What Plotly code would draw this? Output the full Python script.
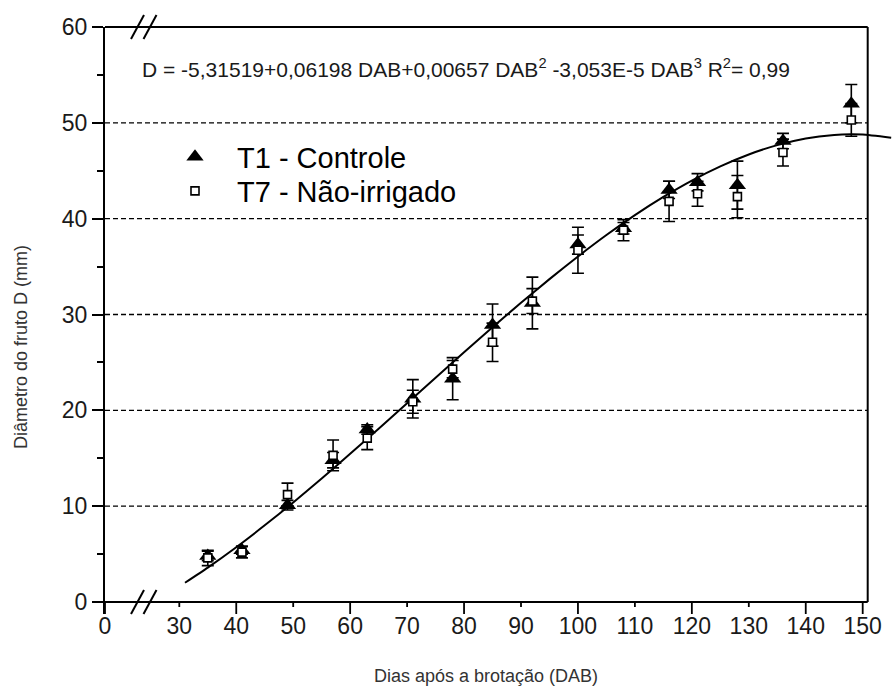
import plotly.graph_objects as go

# ---------------- data ----------------
DAB = [35, 41, 49, 57, 63, 71, 78, 85, 92, 100, 108, 116, 121, 128, 136, 148]
T1_CONTROLE = [4.8, 5.4, 10.1, 14.8, 18.0, 21.2, 23.3, 28.9, 31.2, 37.3, 39.0, 43.0, 43.8, 43.5, 48.1, 52.0]
T1_ERR = [0.5, 0.4, 0.5, 0.8, 0.5, 2.0, 2.2, 2.2, 2.7, 1.0, 0.6, 0.9, 0.9, 2.5, 0.8, 2.0]
T7_NAO_IRRIGADO = [4.6, 5.2, 11.2, 15.3, 17.1, 20.9, 24.3, 27.1, 31.4, 36.7, 38.8, 41.8, 42.6, 42.3, 46.9, 50.3]
T7_ERR = [0.8, 0.6, 1.2, 1.6, 1.2, 1.2, 0.9, 2.0, 1.3, 2.4, 1.1, 2.1, 1.3, 2.2, 1.4, 1.7]

FIT_X = [31, 35, 40, 45, 50, 55, 60, 65, 70, 75, 80, 85, 90, 95, 100, 105, 110, 115,
         120, 125, 130, 135, 140, 145, 148, 150, 155]
FIT_Y = [2.01, 3.59, 5.72, 8.00, 10.39, 12.89, 15.46, 18.09, 20.75, 23.41, 26.06, 28.67,
         31.22, 33.69, 36.05, 38.29, 40.37, 42.27, 43.98, 45.46, 46.70, 47.67, 48.36,
         48.73, 48.80, 48.77, 48.45]

X_TICKS = [30, 40, 50, 60, 70, 80, 90, 100, 110, 120, 130, 140, 150]
X_LONG_TICKS = [40, 60, 80, 100, 120, 140, 150]
Y_TICKS = [0, 10, 20, 30, 40, 50, 60]
Y_GRID = [10, 20, 30, 40, 50]

EQUATION = ("D = -5,31519+0,06198 DAB+0,00657 DAB<sup>2</sup> -3,053E-5 DAB<sup>3</sup> "
            "R<sup>2</sup>= 0,99")
X_TITLE = "Dias após a brotação (DAB)"
Y_TITLE = "Diâmetro do fruto D (mm)"

# ---------------- layout geometry (pixels) ----------------
W, H = 896, 689
AXIS_Y_PX = 602.0            # pixel row of the x axis line (D = 0)
TOP_PX = 27.0                # pixel row of D = 60
LONG_TICK, SHORT_TICK = 12.0, 5.0
ML, MR, MT = 105, 0, int(TOP_PX)
MB = int(H - (AXIS_Y_PX + LONG_TICK))
PW = W - ML - MR
PH = H - MT - MB
Y_SCALE = (AXIS_Y_PX - TOP_PX) / 60.0
y_lo = -LONG_TICK / Y_SCALE

X_BREAK_PX = 143.0
X_RIGHT_PX = 867.7
X30_PX, X150_PX = 179.3, 862.7
SCALE = (X150_PX - X30_PX) / 120.0
d_break = (X_BREAK_PX - ML) / PW
x_lo = 30 - (X30_PX - X_BREAK_PX) / SCALE
x_hi_ext = 150 + (W - X150_PX) / SCALE
left_hi = (X_BREAK_PX - ML) / SCALE


def px(xp):
    return (xp - ML) / PW


def py(yp):
    return (H - MB - yp) / PH


def tick_px(v):
    # pixel column of an x tick on the main (post-break) axis segment
    return X30_PX + (v - 30) * SCALE


FONT = "Liberation Sans, Arial, sans-serif"
TICKFONT = dict(family=FONT, size=23, color="#1a1a1a")

fig = go.Figure()

# empty trace so that the left (pre-break) segment of the x axis gets its own subplot
fig.add_trace(go.Scatter(x=[], y=[], xaxis="x", yaxis="y", showlegend=False,
                         hoverinfo="skip"))

fig.add_trace(go.Scatter(
    x=FIT_X, y=FIT_Y, mode="lines", xaxis="x2", yaxis="y",
    line=dict(color="black", width=2, shape="spline", smoothing=0.5),
    showlegend=False, hoverinfo="skip"))

fig.add_trace(go.Scatter(
    x=DAB, y=T1_CONTROLE, mode="markers", name="T1 - Controle",
    xaxis="x2", yaxis="y", legend="legend",
    marker=dict(symbol="triangle-up", size=15, color="black", line=dict(width=0)),
    error_y=dict(type="data", array=T1_ERR, color="black", thickness=1.6, width=6)))

fig.add_trace(go.Scatter(
    x=DAB, y=T7_NAO_IRRIGADO, mode="markers", name="T7 - Não-irrigado",
    xaxis="x2", yaxis="y", legend="legend2",
    marker=dict(symbol="square", size=8, color="white", line=dict(width=1.6, color="black")),
    error_y=dict(type="data", array=T7_ERR, color="black", thickness=1.6, width=6)))

shapes = []
# dashed horizontal grid lines, ending at the right frame
for v in Y_GRID:
    shapes.append(dict(type="line", xref="paper", yref="y", x0=0, x1=px(X_RIGHT_PX),
                       y0=v, y1=v, layer="below",
                       line=dict(color="black", width=1.3, dash="5px,3px")))
# frame: x axis line, top line and right line
frame_line = dict(color="black", width=2)
shapes.append(dict(type="line", xref="paper", yref="paper", x0=0, x1=px(X_RIGHT_PX),
                   y0=py(AXIS_Y_PX), y1=py(AXIS_Y_PX), line=frame_line))
shapes.append(dict(type="line", xref="paper", yref="paper", x0=0, x1=px(X_RIGHT_PX),
                   y0=1, y1=1, line=frame_line))
shapes.append(dict(type="line", xref="paper", yref="paper", x0=px(X_RIGHT_PX),
                   x1=px(X_RIGHT_PX), y0=py(AXIS_Y_PX), y1=1, line=frame_line))
# x tick marks (long on 40, 60, ..., short otherwise) and the tick under 0
tick_line = dict(color="black", width=1.8)
for v in X_TICKS:
    length = LONG_TICK if v in X_LONG_TICKS else SHORT_TICK
    shapes.append(dict(type="line", xref="paper", yref="paper",
                       x0=px(tick_px(v)), x1=px(tick_px(v)),
                       y0=py(AXIS_Y_PX), y1=py(AXIS_Y_PX + length), line=tick_line))
shapes.append(dict(type="line", xref="paper", yref="paper", x0=0, x1=0,
                   y0=py(AXIS_Y_PX), y1=py(AXIS_Y_PX + LONG_TICK), line=tick_line))
# axis-break marks on bottom and top frame lines
for yc in (AXIS_Y_PX, TOP_PX):
    for x0 in (131.0, 143.5):
        shapes.append(dict(type="line", xref="paper", yref="paper",
                           x0=px(x0), y0=py(yc + 12), x1=px(x0 + 13), y1=py(yc - 12),
                           line=dict(color="black", width=2)))

label_axis = dict(ticks="", showline=False, showgrid=False, zeroline=False,
                  tickfont=TICKFONT, ticklabelstandoff=-4)

fig.update_layout(
    width=W, height=H,
    margin=dict(l=ML, r=MR, t=MT, b=MB, autoexpand=False),
    paper_bgcolor="white", plot_bgcolor="rgba(0,0,0,0)",
    font=dict(family=FONT, color="black"),
    xaxis=dict(domain=[0, d_break], range=[0, left_hi], tickvals=[0], ticktext=["0"],
               anchor="y", **label_axis),
    xaxis2=dict(domain=[d_break, 1], range=[x_lo, x_hi_ext], tickvals=X_TICKS,
                anchor="y", tickangle=0, **label_axis),
    yaxis=dict(range=[y_lo, 60], tickvals=Y_TICKS, ticks="outside", ticklen=11,
               tickcolor="black", tickwidth=1.8, anchor="x", showline=True,
               linecolor="black", linewidth=2, showgrid=False, zeroline=False,
               tickfont=TICKFONT,
               minor=dict(dtick=5, tick0=0, ticklen=6, ticks="outside",
                          tickcolor="black", tickwidth=1.8, showgrid=False)),
    legend=dict(x=px(153), y=py(157),
                xanchor="left", yanchor="middle", itemwidth=74, bgcolor="rgba(0,0,0,0)",
                font=dict(family=FONT, size=29, color="black")),
    legend2=dict(x=px(153), y=py(191),
                 xanchor="left", yanchor="middle", itemwidth=74, bgcolor="rgba(0,0,0,0)",
                 font=dict(family=FONT, size=29, color="black")),
    shapes=shapes,
    annotations=[
        dict(text=EQUATION, xref="paper", yref="paper", x=px(140), y=py(68),
             xanchor="left", yanchor="middle", showarrow=False,
             font=dict(family=FONT, size=21, color="#1a1a1a")),
        dict(text=X_TITLE, xref="paper", yref="paper", x=px(486), y=py(676),
             xanchor="center", yanchor="middle", showarrow=False,
             font=dict(family=FONT, size=18, color="#333333")),
        dict(text=Y_TITLE, xref="paper", yref="paper", x=px(21), y=py(347),
             xanchor="center", yanchor="middle", showarrow=False, textangle=-90,
             font=dict(family=FONT, size=18, color="#333333")),
    ],
)

fig.write_html("out.html")
